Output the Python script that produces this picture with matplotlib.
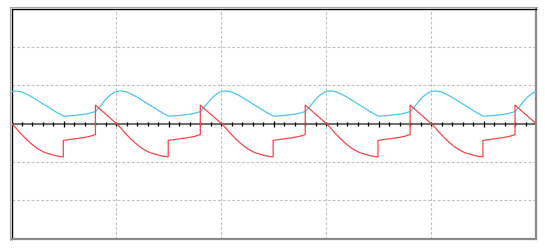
import numpy as np
import matplotlib
matplotlib.use("Agg")
import matplotlib.pyplot as plt
from matplotlib.lines import Line2D

# One period of each waveform (time in divisions, value in divisions)
cyan_t = [0.00, 0.04, 0.09, 0.14, 0.19, 0.25, 0.30, 0.35, 0.40, 0.45, 0.50,
          0.60, 0.72, 0.80, 0.83, 0.86, 0.89, 0.92, 0.95, 0.98]
cyan_v = [0.83, 0.85, 0.83, 0.77, 0.70, 0.60, 0.51, 0.43, 0.34, 0.26, 0.19,
          0.21, 0.25, 0.31, 0.40, 0.50, 0.60, 0.69, 0.76, 0.81]
cyan_end = (5.0, 0.83)

red_t = [0.00, 0.04, 0.08, 0.13, 0.18, 0.23, 0.27, 0.32, 0.37, 0.42, 0.46, 0.494,
         0.494, 0.55, 0.60, 0.68, 0.74, 0.80, 0.80]
red_v = [0.00, -0.11, -0.24, -0.38, -0.51, -0.62, -0.69, -0.76, -0.80, -0.84, -0.86, -0.87,
         -0.44, -0.42, -0.40, -0.37, -0.34, -0.29, 0.48]
red_end = (5.0, 0.0)

n_periods = 5

def build(t, v, end):
    ts, vs = [], []
    for k in range(n_periods):
        ts.extend([x + k for x in t])
        vs.extend(v)
    ts.append(end[0]); vs.append(end[1])
    return np.array(ts), np.array(vs)

ct, cv = build(cyan_t, cyan_v, cyan_end)
rt, rv = build(red_t, red_v, red_end)

W, H = 545, 248
fig = plt.figure(figsize=(W / 100, H / 100), dpi=100)
left, right, top, bottom = 11.5, 536.0, 8.5, 238.5
ax = fig.add_axes([left / W, (H - bottom) / H, (right - left) / W, (bottom - top) / H])
ax.set_xlim(0, 5)
ax.set_ylim(-3, 3)
ax.set_xticks([]); ax.set_yticks([])

grid_kw = dict(color="#c2c2c2", lw=0.8, ls=(0, (2.5, 1.8)), zorder=1)
for gx in [1, 2, 3, 4]:
    ax.axvline(gx, **grid_kw)
for gy in [-2, -1, 1, 2]:
    ax.axhline(gy, **grid_kw)

# centre axis with ticks
ax.axhline(0, color="#707070", lw=1.5, zorder=2)
minor = np.arange(1, 50) / 10.0
minor_x = [m for m in minor if abs(m * 2 - round(m * 2)) > 1e-6 or abs(m - round(m)) < 1e-6]
major_x = [k + 0.5 for k in range(n_periods)]
ax.plot(minor_x, np.zeros(len(minor_x)), ls="none", marker="|", ms=2.6, mew=0.9, color="black", zorder=3)
ax.plot(major_x, np.zeros(len(major_x)), ls="none", marker="|", ms=4.2, mew=0.9, color="black", zorder=3)

ax.plot(ct, cv, color="#4cc6f2", lw=0.9, zorder=4)
ax.plot(rt, rv, color="#f5484b", lw=0.9, zorder=5)

for side in ["left", "top"]:
    ax.spines[side].set_color("black")
    ax.spines[side].set_linewidth(1.0)
for side in ["right", "bottom"]:
    ax.spines[side].set_color("#8a8a8a")
    ax.spines[side].set_linewidth(1.6)

# outer gray edge on top/left
fig.add_artist(Line2D([10 / W, 537 / W], [(H - 7.2) / H] * 2, color="#a8a8a8", lw=0.8, transform=fig.transFigure))
fig.add_artist(Line2D([10.2 / W] * 2, [(H - 7) / H, (H - 240) / H], color="#a8a8a8", lw=0.8, transform=fig.transFigure))

fig.savefig("out.png", dpi=100)
